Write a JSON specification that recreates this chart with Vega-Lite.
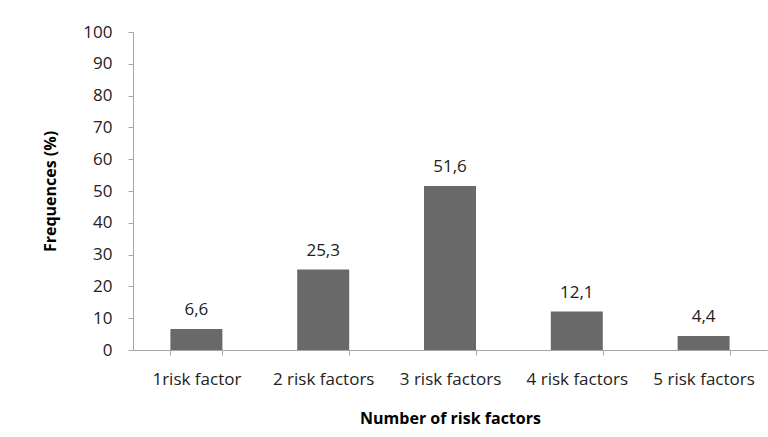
{
  "$schema": "https://vega.github.io/schema/vega-lite/v6.json",
  "width": 634,
  "height": 318,
  "autosize": {"type": "none"},
  "padding": {"left": 133, "top": 32, "right": 1, "bottom": 87},
  "background": "white",
  "config": {"view": {"stroke": null}, "font": "Open Sans"},
  "data": {"values": [
    {"cat": "1risk factor", "value": 6.6, "label": "6,6"},
    {"cat": "2 risk factors", "value": 25.3, "label": "25,3"},
    {"cat": "3 risk factors", "value": 51.6, "label": "51,6"},
    {"cat": "4 risk factors", "value": 12.1, "label": "12,1"},
    {"cat": "5 risk factors", "value": 4.4, "label": "4,4"}
  ]},
  "encoding": {
    "x": {
      "field": "cat", "type": "nominal", "sort": null,
      "scale": {"paddingInner": 0.59, "paddingOuter": 0.295},
      "axis": {
        "title": "Number of risk factors", "labelAngle": 0,
        "tickBand": "extent", "domainColor": "#a6a6a6", "tickColor": "#a6a6a6",
        "tickSize": 5, "labelFontSize": 17, "labelColor": "#222222", "labelPadding": 16,
        "titleFontSize": 16, "titleFontWeight": "bold", "titleColor": "#000000", "titlePadding": 23
      }
    },
    "y": {
      "field": "value", "type": "quantitative",
      "scale": {"domain": [0, 100]},
      "axis": {
        "title": "Frequences (%)", "values": [0,10,20,30,40,50,60,70,80,90,100],
        "grid": false, "domainColor": "#a6a6a6", "tickColor": "#a6a6a6", "tickSize": 5,
        "labelFontSize": 17, "labelColor": "#222222", "labelPadding": 16,
        "titleFontSize": 16, "titleFontWeight": "bold", "titleColor": "#000000", "titlePadding": 24
      }
    }
  },
  "layer": [
    {"mark": {"type": "bar", "color": "#696969"}},
    {"mark": {"type": "text", "baseline": "alphabetic", "dy": -14, "fontSize": 17, "color": "#222222"},
     "encoding": {"text": {"field": "label"}}}
  ]
}
